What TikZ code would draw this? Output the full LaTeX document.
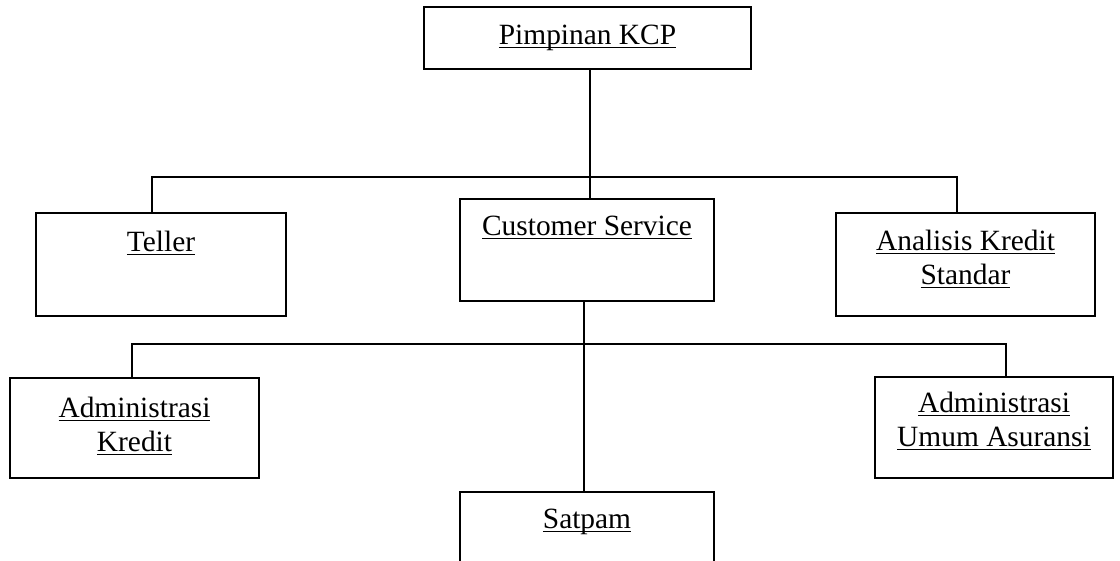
\documentclass[tikz,border=0pt]{standalone}
\usepackage{fontspec}
\setmainfont{Liberation Serif}
\usetikzlibrary{fit}

\newcommand{\ulx}[1]{\underline{\smash{#1}}}

\begin{document}
\begin{tikzpicture}[x=0.5pt, y=0.5pt,
	box/.style={draw, line width=1.1pt, inner sep=0pt},
	lbl/.style={anchor=base, align=center, inner sep=0pt, font=\fontsize{14.7}{17}\selectfont},
	line width=1pt]
	\useasboundingbox (0,0) rectangle (1120,-561);
	\clip (0,0) rectangle (1120,-561);
	\node[box, fit={(424,-7) (751,-69)}] (pimpinan) {};
	\node[lbl] (pimpinanT) at ([yshift=-19.5pt]pimpinan.north) {\ulx{Pimpinan KCP}};
		\node[box, fit={(36,-213) (286,-316)}] (teller) {};
		\node[lbl] (tellerT) at ([yshift=-20pt]teller.north) {\ulx{Teller}};
		\node[box, fit={(460,-199) (714,-301)}] (cs) {};
		\node[lbl] (csT) at ([yshift=-19pt]cs.north) {\ulx{Customer Service}};
		\node[box, fit={(836,-213) (1095,-316)}] (analis) {};
		\node[lbl] (analisT) at ([yshift=-36.5pt]analis.north) {\ulx{Analisis Kredit}\\\ulx{Standar}};
			\node[box, fit={(10,-378) (259,-478)}] (admkredit) {};
			\node[lbl] (admkreditT) at ([yshift=-37.5pt]admkredit.north) {\ulx{Administrasi}\\\ulx{Kredit}};
			\node[box, fit={(875,-377) (1113,-478)}] (admumum) {};
			\node[lbl] (admumumT) at ([yshift=-35.5pt]admumum.north) {\ulx{Administrasi}\\\ulx{Umum Asuransi}};
			\node[box, fit={(460,-492) (714,-575)}] (satpam) {};
			\node[lbl] (satpamT) at ([yshift=-19pt]satpam.north) {\ulx{Satpam}};
	% upper level
	\coordinate (topmid) at (589.5,-177);
	\coordinate (topL) at (152,-177);
	\coordinate (topR) at (957,-177);
	\draw[-] (pimpinan.south -| topmid) -- (cs.north -| topmid);
	\draw[-] (teller.north -| topL) -- (topL) -- (topR) -- (analis.north -| topR);
	% lower level
	\coordinate (lowmid) at (584,-344);
	\coordinate (lowL) at (132,-344);
	\coordinate (lowR) at (1006,-344);
	\draw[-] (cs.south -| lowmid) -- (satpam.north -| lowmid);
	\draw[-] (admkredit.north -| lowL) -- (lowL) -- (lowR) -- (admumum.north -| lowR);
\end{tikzpicture}
\end{document}
